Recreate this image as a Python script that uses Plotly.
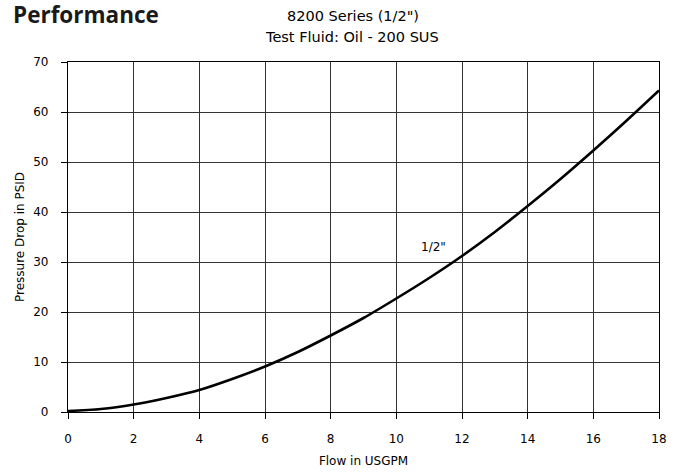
import plotly.graph_objects as go

flow = [0, 1, 2, 3, 4, 5, 6, 7, 8, 9, 10, 11, 12, 13, 14, 15, 16, 17, 18]
pressure = [0.2, 0.6, 1.5, 2.8, 4.4, 6.6, 9.1, 12.0, 15.3, 18.8, 22.7, 26.8, 31.2, 36.0, 41.2, 46.6, 52.3, 58.2, 64.3]
x_ticks = [0, 2, 4, 6, 8, 10, 12, 14, 16, 18]
y_ticks = [0, 10, 20, 30, 40, 50, 60, 70]
series_label = '1/2"'
label_pos = (11.13, 33.0)

W, H = 675, 472
L, R, T, B = 68, 16, 62, 60
pw, ph = W - L - R, H - T - B

def px(x):
    return (x - L) / pw

def py(y):
    return (H - B - y) / ph

fig = go.Figure()
fig.add_trace(go.Scatter(x=flow, y=pressure, mode="lines",
                         line=dict(color="black", width=2.6, shape="spline", smoothing=0.8),
                         hoverinfo="skip", showlegend=False))

fig.add_annotation(x=label_pos[0], y=label_pos[1], xref="x", yref="y", text=series_label,
                   showarrow=False, font=dict(family="DejaVu Sans", size=12, color="black"))

fig.add_annotation(x=px(11), y=py(15), xref="paper", yref="paper", text="<b>Performance</b>",
                   xanchor="left", yanchor="middle", showarrow=False,
                   font=dict(family="Open Sans", size=22.5, color="#1a1a1a"))
fig.add_annotation(x=px(353), y=py(16), xref="paper", yref="paper", text='8200 Series (1/2")',
                   xanchor="center", yanchor="middle", showarrow=False,
                   font=dict(family="DejaVu Sans", size=14.5, color="black"))
fig.add_annotation(x=px(352), y=py(37), xref="paper", yref="paper", text="Test Fluid: Oil - 200 SUS",
                   xanchor="center", yanchor="middle", showarrow=False,
                   font=dict(family="DejaVu Sans", size=14.5, color="black"))

axis_common = dict(showline=True, linecolor="black", linewidth=1.2, mirror=True,
                   showgrid=True, gridcolor="#333333", gridwidth=1,
                   zeroline=False, ticks="outside", tickcolor="black", ticklen=6,
                   tickfont=dict(family="DejaVu Sans", size=12, color="black"))

fig.update_xaxes(range=[0, 18], tickvals=x_ticks, ticklabelstandoff=9,
                 title=dict(text="Flow in USGPM", standoff=12,
                            font=dict(family="DejaVu Sans", size=12, color="black")),
                 **axis_common)
fig.update_yaxes(range=[0, 70], tickvals=y_ticks, ticklabelstandoff=10,
                 title=dict(text="Pressure Drop in PSID", standoff=6,
                            font=dict(family="DejaVu Sans", size=12, color="black")),
                 **axis_common)

fig.update_layout(width=W, height=H, margin=dict(l=L, r=R, t=T, b=B, autoexpand=False),
                  plot_bgcolor="white", paper_bgcolor="white")

fig.write_html("out.html", config={"displayModeBar": False},
               post_script="document.body.style.margin='0';")
